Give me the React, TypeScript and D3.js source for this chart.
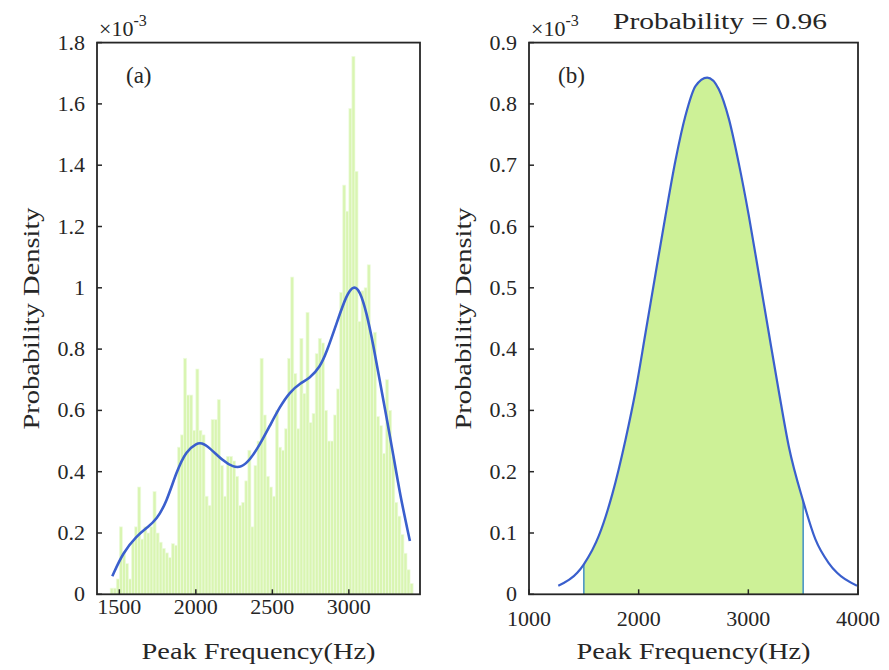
import React, { useEffect, useRef } from 'react';
import * as d3 from 'd3';

// histogram (a): bin starts every 20 Hz, density x1e-3
const binStarts = d3.range(1440, 3420, 20);
const binWidth = 20;
const binDensity = [
  0.02, 0.02, 0.05, 0.22, 0.14, 0.10, 0.05, 0.17, 0.22, 0.35,
  0.18, 0.22, 0.20, 0.22, 0.335, 0.20, 0.17, 0.15, 0.135, 0.12,
  0.165, 0.16, 0.48, 0.52, 0.77, 0.65, 0.65, 0.535, 0.735, 0.535,
  0.52, 0.32, 0.29, 0.57, 0.57, 0.635, 0.42, 0.32, 0.45, 0.45,
  0.435, 0.385, 0.29, 0.30, 0.37, 0.47, 0.22, 0.42, 0.50, 0.77,
  0.585, 0.385, 0.35, 0.32, 0.60, 0.48, 0.47, 0.54, 0.77, 1.035,
  0.72, 0.54, 0.835, 0.655, 0.92, 0.56, 0.59, 0.785, 0.835, 0.82,
  0.60, 0.50, 0.50, 0.585, 0.67, 0.985, 1.335, 1.25, 1.585, 1.755,
  1.38, 0.89, 0.99, 1.0, 1.075, 0.835, 0.855, 0.58, 0.55, 0.46,
  0.70, 0.60, 0.45, 0.30, 0.255, 0.195, 0.134, 0.08, 0.035,
];

// kernel density line (a)
const kdeFreq = [1454, 1524, 1611, 1688, 1742, 1808, 1873, 1938, 2004, 2036, 2091, 2178, 2244, 2298, 2353, 2418, 2484, 2549, 2614, 2680, 2745, 2811, 2854, 2920, 2985, 3033, 3072, 3116, 3160, 3203, 3247, 3290, 3334, 3399];
const kdeDensity = [0.059, 0.136, 0.19, 0.22, 0.243, 0.30, 0.40, 0.469, 0.492, 0.495, 0.478, 0.435, 0.415, 0.414, 0.438, 0.488, 0.55, 0.612, 0.66, 0.688, 0.705, 0.741, 0.789, 0.884, 0.979, 1.008, 0.99, 0.919, 0.813, 0.694, 0.575, 0.457, 0.326, 0.174];

// fitted curve (b)
const fitFreq = [1267, 1440, 1500, 1638, 1759, 1881, 1972, 2063, 2154, 2245, 2336, 2427, 2518, 2625, 2731, 2822, 2913, 3004, 3095, 3186, 3277, 3368, 3500, 3611, 3733, 3809, 3991];
const fitDensity = [0.014, 0.035, 0.049, 0.096, 0.163, 0.253, 0.332, 0.427, 0.523, 0.618, 0.708, 0.781, 0.829, 0.843, 0.824, 0.776, 0.703, 0.618, 0.523, 0.427, 0.332, 0.242, 0.152, 0.090, 0.051, 0.035, 0.014];
const bandLimits = [1500, 3500];

const xTicksA = [1500, 2000, 2500, 3000];
const xTicksB = [1000, 2000, 3000, 4000];

const font = '"Liberation Serif", "Times New Roman", serif';
const axisCol = '#262626';
const top = 42.6, bottom = 594.3;

export default function App() {
  const ref = useRef<SVGSVGElement>(null);

  useEffect(() => {
    const svg = d3.select(ref.current);
    svg.selectAll('*').remove();

    const panel = (x0: number, x1: number, xDom: number[], yMax: number, xTicks: number[], tag: string, tickY: number, labelX: number) => {
      const x = d3.scaleLinear().domain(xDom).range([x0, x1]);
      const y = d3.scaleLinear().domain([0, yMax]).range([bottom, top]);
      const g = svg.append('g');
      const clipId = 'clip' + tag;
      svg.append('clipPath').attr('id', clipId)
        .append('rect').attr('x', x0).attr('y', top).attr('width', x1 - x0).attr('height', bottom - top);
      const plot = g.append('g').attr('clip-path', `url(#${clipId})`);
      return { x, y, g, plot, x0, x1, xTicks, yMax, tag, tickY, labelX };
    };

    const drawAxes = (p: any) => {
      const { x, y, g, x0, x1, xTicks, tag, tickY, labelX } = p;
      g.append('rect').attr('x', x0).attr('y', top).attr('width', x1 - x0).attr('height', bottom - top)
        .attr('fill', 'none').attr('stroke', axisCol).attr('stroke-width', 1.8);
      const yT = y.ticks(9);
      g.selectAll('.yt').data(yT).join('line')
        .attr('x1', x0).attr('x2', x0 + 5).attr('y1', (d: number) => y(d)).attr('y2', (d: number) => y(d))
        .attr('stroke', axisCol).attr('stroke-width', 1.5);
      g.selectAll('.ytl').data(yT).join('text')
        .attr('x', x0 - 12).attr('y', (d: number) => y(d) + 7)
        .attr('text-anchor', 'end').attr('font-family', font).attr('font-size', 22).attr('fill', axisCol)
        .text((d: number) => d3.format('~g')(d));
      g.selectAll('.xt').data(xTicks).join('line')
        .attr('x1', (d: number) => x(d)).attr('x2', (d: number) => x(d)).attr('y1', bottom).attr('y2', bottom - 5)
        .attr('stroke', axisCol).attr('stroke-width', 1.5);
      g.selectAll('.xtl').data(xTicks).join('text')
        .attr('x', (d: number) => x(d)).attr('y', tickY)
        .attr('text-anchor', 'middle').attr('font-family', font).attr('font-size', 22).attr('fill', axisCol)
        .text((d: number) => d);
      const cx = (x0 + x1) / 2;
      g.append('text').attr('x', cx).attr('y', 659).attr('text-anchor', 'middle')
        .attr('font-family', font).attr('font-size', 23).attr('fill', axisCol)
        .attr('textLength', 234).attr('lengthAdjust', 'spacingAndGlyphs')
        .text('Peak Frequency(Hz)');
      g.append('text').attr('transform', `translate(${labelX},${(top + bottom) / 2}) rotate(-90)`)
        .attr('text-anchor', 'middle').attr('font-family', font).attr('font-size', 23).attr('fill', axisCol)
        .attr('textLength', 222).attr('lengthAdjust', 'spacingAndGlyphs')
        .text('Probability Density');
      const ex = g.append('text').attr('x', x0 + 2).attr('y', 36).attr('font-family', font).attr('font-size', 22).attr('fill', axisCol);
      ex.append('tspan').text('\u00d710');
      ex.append('tspan').attr('dy', -10).attr('font-size', 16).text('-3');
      g.append('text').attr('x', x0 + 29).attr('y', 83).attr('font-family', font).attr('font-size', 23).attr('fill', axisCol)
        .text(`(${tag})`);
    };

    // (a) histogram + density line
    const a = panel(97, 420, [1354, 3465], 1.8, xTicksA, 'a', 614, 39);
    a.plot.selectAll('rect.bar').data(binStarts).join('rect')
      .attr('class', 'bar')
      .attr('x', (d: number) => a.x(d))
      .attr('width', (d: number) => a.x(d + binWidth) - a.x(d))
      .attr('y', (d: number, i: number) => a.y(binDensity[i]))
      .attr('height', (d: number, i: number) => a.y(0) - a.y(binDensity[i]))
      .attr('fill', '#d9f5b2').attr('stroke', '#eefbdf').attr('stroke-width', 0.7);
    const kdeLine = d3.line<number>().x((d) => a.x(d)).y((d, i) => a.y(kdeDensity[i])).curve(d3.curveBasis);
    a.plot.append('path').attr('d', kdeLine(kdeFreq))
      .attr('fill', 'none').attr('stroke', '#3a5fcd').attr('stroke-width', 2.6);
    drawAxes(a);

    // (b) fitted curve with shaded band
    const b = panel(529, 858, [1000, 4000], 0.9, xTicksB, 'b', 626, 471);
    const pts = fitFreq.map((f, i) => [f, fitDensity[i]] as [number, number]);
    const band = pts.filter((p) => p[0] >= bandLimits[0] && p[0] <= bandLimits[1]);
    const area = d3.area<[number, number]>().x((d) => b.x(d[0])).y0(b.y(0)).y1((d) => b.y(d[1])).curve(d3.curveMonotoneX);
    b.plot.append('path').attr('d', area(band)).attr('fill', '#cdf197');
    b.plot.selectAll('line.lim').data(band.filter((p) => bandLimits.includes(p[0]))).join('line')
      .attr('class', 'lim')
      .attr('x1', (d) => b.x(d[0])).attr('x2', (d) => b.x(d[0]))
      .attr('y1', b.y(0)).attr('y2', (d) => b.y(d[1]))
      .attr('stroke', '#4b96c6').attr('stroke-width', 1.6);
    const fitLine = d3.line<[number, number]>().x((d) => b.x(d[0])).y((d) => b.y(d[1])).curve(d3.curveMonotoneX);
    b.plot.append('path').attr('d', fitLine(pts))
      .attr('fill', 'none').attr('stroke', '#3a5fcd').attr('stroke-width', 2.2);
    drawAxes(b);

    svg.append('text').attr('x', 613).attr('y', 29).attr('font-family', font).attr('font-size', 23).attr('fill', axisCol)
      .attr('textLength', 214).attr('lengthAdjust', 'spacingAndGlyphs')
      .text('Probability = 0.96');
  }, []);

  return (
    <svg ref={ref} width={889} height={670}
      style={{ position: 'absolute', left: 0, top: 0, background: '#fff' }} />
  );
}
